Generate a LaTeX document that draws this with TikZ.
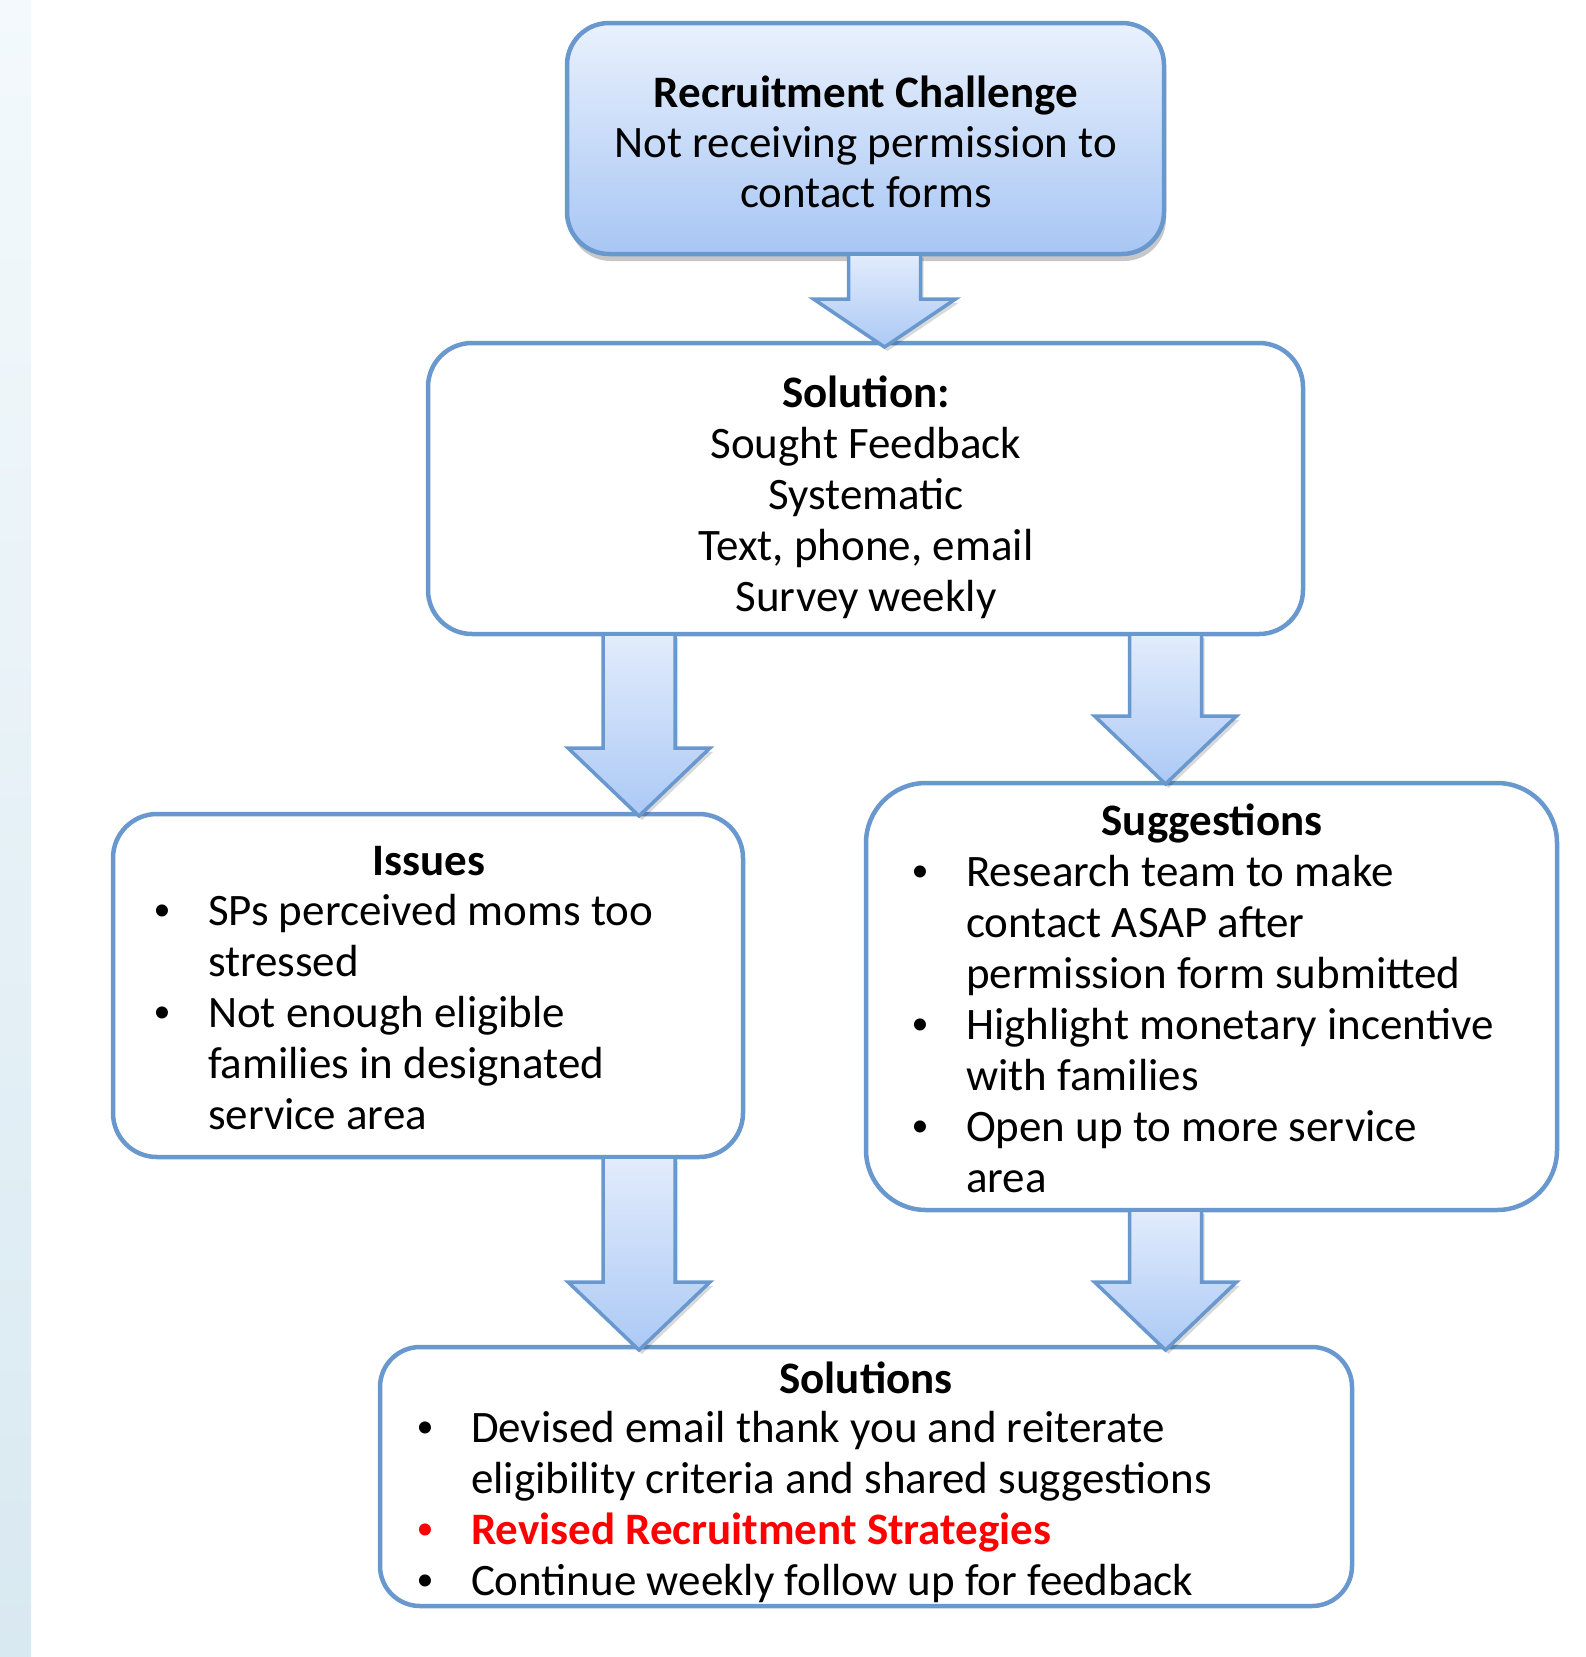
\documentclass[tikz,border=0pt]{standalone}
\usepackage{fontspec}
\setmainfont{Carlito}
\usetikzlibrary{calc,shadows}
\definecolor{bblue}{RGB}{105,152,206}
\definecolor{gradtop}{RGB}{233,241,253}
\definecolor{gradbot}{RGB}{168,198,244}
\definecolor{arrtop}{RGB}{226,236,252}
\definecolor{arrbot}{RGB}{172,201,245}
\definecolor{striptop}{RGB}{243,249,252}
\definecolor{stripbot}{RGB}{217,233,241}
\definecolor{redtxt}{RGB}{255,0,0}
\newcommand\blockarrow[3]{%
  \path[arrowstyle] let \p1=#1, \p2=#2 in
  (\x1-36pt,\y1) -- (\x1+36pt,\y1) -- (\x1+36pt,\y2+#3) -- (\x1+71pt,\y2+#3)
  -- (\x1,\y2) -- (\x1-71pt,\y2+#3) -- (\x1-36pt,\y2+#3) -- cycle;}
\newcommand\itm{\makebox[0pt][c]{\raisebox{5pt}{\fontsize{34}{34}\selectfont •}}\hspace*{46pt}}
\newcommand\cnt{\hspace*{46pt}}
\newcommand\fst{\rule{0pt}{36pt}}
\tikzset{
  box/.style={draw=bblue, line width=4.5pt, rounded corners=44pt, fill=white,
    inner sep=0pt, outer sep=0pt},
  topbox/.style={box, top color=gradtop, bottom color=gradbot, rounded corners=42pt,
    drop shadow={shadow xshift=2pt, shadow yshift=-7pt, opacity=0.22, fill=black}},
  arrowstyle/.style={draw=bblue, line width=3.5pt, line join=miter,
    top color=arrtop, bottom color=arrbot,
    drop shadow={shadow xshift=3pt, shadow yshift=-4pt, opacity=0.15, fill=black}},
  txt/.style={inner sep=0pt, outer sep=0pt, font=\fontsize{45}{51}\selectfont},
}
\begin{document}
\begin{tikzpicture}[x=1pt,y=-1pt]
\useasboundingbox (0,0) rectangle (1586,1657);
\fill[top color=striptop, bottom color=stripbot] (0,0) rectangle (31,1657);

% boxes
\node[topbox, minimum width=597pt, minimum height=231pt] (top) at (865.5,138.5) {};
\node[box, minimum width=875pt, minimum height=291pt] (sol) at (865.5,488.5) {};
\node[box, minimum width=630pt, minimum height=343pt] (iss) at (428,985.5) {};
\node[box, minimum width=691pt, minimum height=427pt, rounded corners=60pt] (sug) at (1211.5,996.5) {};
\node[box, minimum width=972pt, minimum height=259pt, rounded corners=40pt] (fin) at (866,1476.5) {};

% arrows
\blockarrow{($(top.south)+(19,0)$)}{($(sol.north)+(19,4)$)}{48pt}
\blockarrow{($(sol.south)+(-226.5,0)$)}{($(iss.north)+(211,2)$)}{68pt}
\blockarrow{($(sol.south)+(300,0)$)}{($(sug.north)+(-46,1)$)}{68pt}
\blockarrow{($(iss.south)+(211,0)$)}{($(fin.north)+(-227,3)$)}{68pt}
\blockarrow{($(sug.south)+(-46,0)$)}{($(fin.north)+(299.5,3)$)}{68pt}

% texts
\node[txt, anchor=north, align=center, font=\fontsize{45}{50}\selectfont] (toptxt) at (866,71)
  {\fst\textbf{Recruitment Challenge}\\Not receiving permission to\\contact forms};
\node[txt, anchor=north, align=center] (soltxt) at (866,371)
  {\fst\textbf{Solution:}\\Sought Feedback\\Systematic\\Text, phone, email\\Survey weekly};

\node[txt, anchor=north] (isstitle) at (429,839) {\fst\textbf{Issues}};
\node[txt, anchor=north west, align=left] (isslist) at (162,889)
  {\fst\itm SPs perceived moms too\\\cnt stressed\\\itm Not enough eligible\\\cnt families in designated\\\cnt service area};

\node[txt, anchor=north] (sugtitle) at (1212,799) {\fst\textbf{Suggestions}};
\node[txt, anchor=north west, align=left] (suglist) at (920,850)
  {\fst\itm Research team to make\\\cnt contact ASAP after\\\cnt permission form submitted\\\itm Highlight monetary incentive\\\cnt with families\\\itm Open up to more service\\\cnt area};

\node[txt, anchor=north] (fintitle) at (866,1357) {\fst\textbf{Solutions}};
\node[txt, anchor=north west, align=left] (finlist) at (425,1406)
  {\fst\itm Devised email thank you and reiterate\\\cnt eligibility criteria and shared suggestions\\\textcolor{redtxt}{\itm\textbf{Revised Recruitment Strategies}}\\\itm Continue weekly follow up for feedback};
\end{tikzpicture}
\end{document}
